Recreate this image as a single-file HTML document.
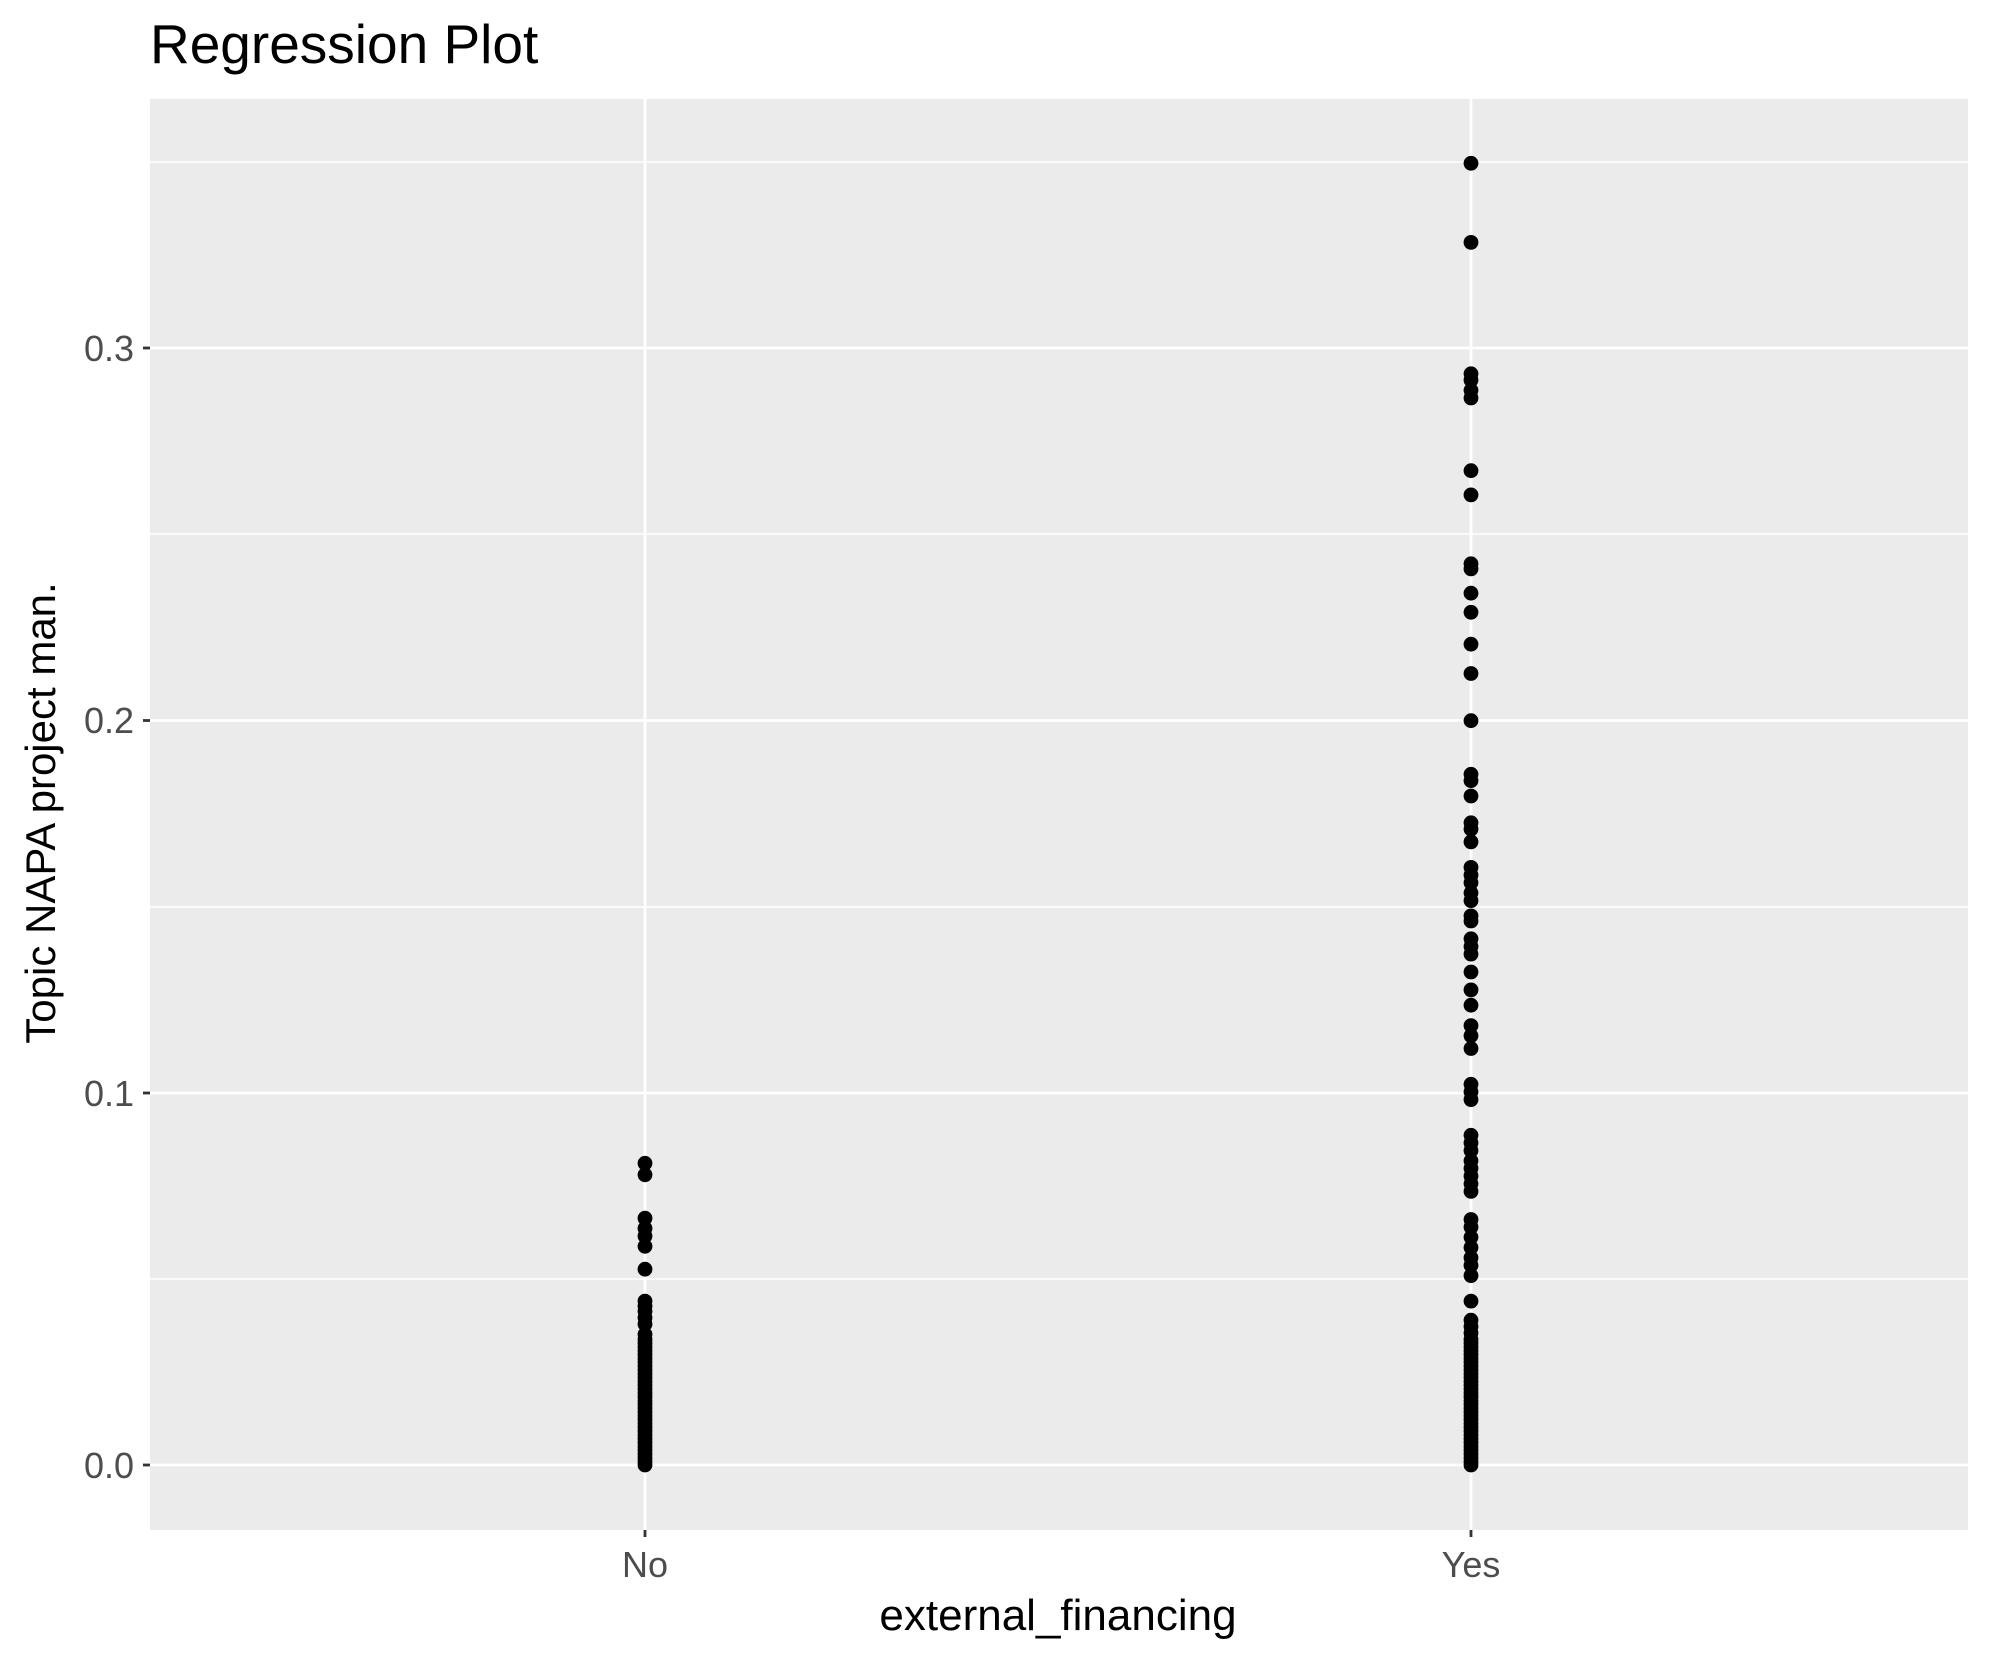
<!DOCTYPE html>
<html><head><meta charset="utf-8"><style>body{margin:0;background:#fff}svg{display:block}text{font-family:"Liberation Sans",sans-serif}</style></head>
<body>
<svg id="s" width="1990" height="1665" xmlns="http://www.w3.org/2000/svg">
<rect width="1990" height="1665" fill="#fff"/>
<text x="150" y="63" font-size="55" fill="#000">Regression Plot</text>
<rect x="150" y="99" width="1818" height="1431" fill="#ebebeb"/>
<g stroke="#fff" stroke-width="1.4">
<line x1="150" x2="1968" y1="1279" y2="1279"/><line x1="150" x2="1968" y1="907" y2="907"/>
<line x1="150" x2="1968" y1="534" y2="534"/><line x1="150" x2="1968" y1="162" y2="162"/>
</g>
<g stroke="#fff" stroke-width="2.8">
<line x1="150" x2="1968" y1="1465" y2="1465"/><line x1="150" x2="1968" y1="1093" y2="1093"/>
<line x1="150" x2="1968" y1="720.5" y2="720.5"/><line x1="150" x2="1968" y1="348" y2="348"/>
<line x1="645" x2="645" y1="99" y2="1530"/><line x1="1471" x2="1471" y1="99" y2="1530"/>
</g>
<g stroke="#333" stroke-width="2.8">
<line x1="143" x2="150" y1="1465" y2="1465"/><line x1="143" x2="150" y1="1093" y2="1093"/>
<line x1="143" x2="150" y1="720.5" y2="720.5"/><line x1="143" x2="150" y1="348" y2="348"/>
<line x1="645" x2="645" y1="1530" y2="1537"/><line x1="1471" x2="1471" y1="1530" y2="1537"/>
</g>
<g font-size="36" fill="#4d4d4d" text-anchor="end">
<text x="134" y="1478">0.0</text><text x="134" y="1106">0.1</text>
<text x="134" y="733">0.2</text><text x="134" y="361">0.3</text>
</g>
<g font-size="36" fill="#4d4d4d" text-anchor="middle">
<text x="645" y="1577">No</text><text x="1471" y="1577">Yes</text>
</g>
<text x="1058" y="1630" font-size="44" text-anchor="middle">external_financing</text>
<text transform="translate(55,813) rotate(-90)" font-size="42" text-anchor="middle">Topic NAPA project man.</text>
<g id="pts" fill="#000"></g>
</svg>
<script>
var g=document.getElementById('pts'),ns='http://www.w3.org/2000/svg';
function add(x,d){var c=document.createElementNS(ns,'circle');c.setAttribute('cx',x);c.setAttribute('cy',(d*1.2756).toFixed(1));c.setAttribute('r',7.4);g.appendChild(c);}
var no=[912,921,955,963,969,977,995,1020,1024,1028,1033,1038,1046];
for(var y=1050;y<=1148;y+=3)no.push(y);no.push(1148.5);
no.forEach(function(d){add(645,d)});
var yes=[128,190,293,298,306,312,369,388,442,446,465,480,505,528,565,607,612,624,645,650,660,680,686,692,700,706,718,722,736,742,748,762,776,788,804,812,822,850,856,862,890,896,902,910,916,922,928,934,956,962,970,978,986,992,1000,1020,1035,1040,1045];
for(var y=1050;y<=1148;y+=3)yes.push(y);yes.push(1148.5);
yes.forEach(function(d){add(1471,d)});
</script>
</body></html>
